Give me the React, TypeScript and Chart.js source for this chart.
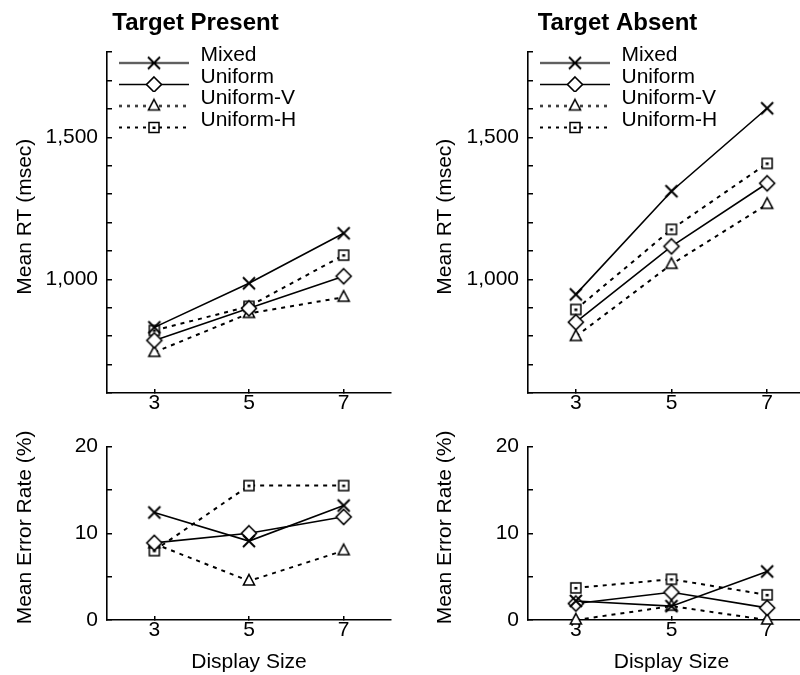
import React, { useEffect, useRef } from 'react';
import { Chart, registerables } from 'chart.js';

Chart.register(...registerables);

const FONT = '"Liberation Sans", Arial, Helvetica, sans-serif';

// ---------------- data ----------------
const DISPLAY_SIZES = [3, 5, 7];
const SERIES_NAMES = ['Mixed', 'Uniform', 'Uniform-V', 'Uniform-H'];
const PANEL_TITLES = ['Target Present', 'Target Absent'];
const Y_TITLE_RT = 'Mean RT (msec)';
const Y_TITLE_ERR = 'Mean Error Rate (%)';
const X_TITLE = 'Display Size';

const RT_PRESENT_MIXED = [831, 986, 1162];
const RT_PRESENT_UNIFORM = [785, 898, 1011];
const RT_PRESENT_UNIFORM_V = [743, 880, 937];
const RT_PRESENT_UNIFORM_H = [820, 905, 1085];

const RT_ABSENT_MIXED = [947, 1310, 1602];
const RT_ABSENT_UNIFORM = [849, 1116, 1338];
const RT_ABSENT_UNIFORM_V = [799, 1053, 1264];
const RT_ABSENT_UNIFORM_H = [894, 1176, 1408];

const ERR_PRESENT_MIXED = [12.4, 9.1, 13.2];
const ERR_PRESENT_UNIFORM = [8.9, 10.0, 11.9];
const ERR_PRESENT_UNIFORM_V = [8.8, 4.5, 8.0];
const ERR_PRESENT_UNIFORM_H = [8.0, 15.5, 15.5];

const ERR_ABSENT_MIXED = [2.2, 1.6, 5.6];
const ERR_ABSENT_UNIFORM = [1.9, 3.2, 1.4];
const ERR_ABSENT_UNIFORM_V = [0, 1.6, 0];
const ERR_ABSENT_UNIFORM_H = [3.7, 4.7, 2.9];

const RT_TICK_LABELS = [1000, 1500];
const ERR_TICK_LABELS = [0, 10, 20];
const RT_RANGE = [600, 1800, 100];
const ERR_RANGE = [0, 20, 5];
const X_RANGE = [2, 8];

// ---------------- styles ----------------
type MarkerKind = 'cross' | 'diamond' | 'triangle' | 'square';
const SERIES_STYLE: { marker: MarkerKind; dash: number[]; width: number }[] = [
  { marker: 'cross', dash: [], width: 1.6 },
  { marker: 'diamond', dash: [], width: 1.6 },
  { marker: 'triangle', dash: [4, 5], width: 2 },
  { marker: 'square', dash: [4, 5], width: 2 },
];

function drawMarker(ctx: CanvasRenderingContext2D, kind: MarkerKind, cx: number, cy: number) {
  ctx.save();
  ctx.setLineDash([]);
  ctx.strokeStyle = '#000';
  ctx.fillStyle = '#fff';
  ctx.lineJoin = 'miter';
  if (kind === 'cross') {
    ctx.lineWidth = 2;
    ctx.beginPath();
    ctx.moveTo(cx - 6, cy - 6);
    ctx.lineTo(cx + 6, cy + 6);
    ctx.moveTo(cx + 6, cy - 6);
    ctx.lineTo(cx - 6, cy + 6);
    ctx.stroke();
  } else if (kind === 'diamond') {
    ctx.lineWidth = 1.6;
    ctx.beginPath();
    ctx.moveTo(cx, cy - 7.5);
    ctx.lineTo(cx + 7.5, cy);
    ctx.lineTo(cx, cy + 7.5);
    ctx.lineTo(cx - 7.5, cy);
    ctx.closePath();
    ctx.fill();
    ctx.stroke();
  } else if (kind === 'triangle') {
    ctx.lineWidth = 1.6;
    ctx.beginPath();
    ctx.moveTo(cx, cy - 6.5);
    ctx.lineTo(cx + 5.5, cy + 4);
    ctx.lineTo(cx - 5.5, cy + 4);
    ctx.closePath();
    ctx.fill();
    ctx.stroke();
  } else {
    ctx.lineWidth = 1.5;
    ctx.beginPath();
    ctx.rect(cx - 5, cy - 5, 10, 10);
    ctx.fill();
    ctx.stroke();
    ctx.fillStyle = '#000';
    ctx.fillRect(cx - 1.5, cy - 1, 3, 2.5);
  }
  ctx.restore();
}

let markerCache: HTMLCanvasElement[] | null = null;
let legendCache: HTMLCanvasElement[] | null = null;

function markerImages(): HTMLCanvasElement[] {
  if (markerCache) return markerCache;
  markerCache = SERIES_STYLE.map((s) => {
    const c = document.createElement('canvas');
    c.width = 20;
    c.height = 20;
    drawMarker(c.getContext('2d')!, s.marker, 10, 10);
    return c;
  });
  return markerCache;
}

const LEGEND_W = 72;
function legendImages(): HTMLCanvasElement[] {
  if (legendCache) return legendCache;
  legendCache = SERIES_STYLE.map((s) => {
    const c = document.createElement('canvas');
    c.width = LEGEND_W;
    c.height = 30;
    const ctx = c.getContext('2d')!;
    const ly = 22.5;
    ctx.strokeStyle = '#000';
    ctx.lineWidth = s.width;
    ctx.setLineDash(s.dash.length ? [3, 5] : []);
    ctx.beginPath();
    ctx.moveTo(1, ly);
    ctx.lineTo(LEGEND_W - 1, ly);
    ctx.stroke();
    drawMarker(ctx, s.marker, LEGEND_W / 2, ly);
    return c;
  });
  return legendCache;
}

const legendShift = {
  id: 'legendShift',
  afterLayout(chart: any) {
    const lg = chart.legend;
    if (!lg || !chart.options.plugins.legend.display) return;
    const ca = chart.chartArea;
    lg.left = ca.left + 10.5;
    lg.top = ca.top - 7.5;
  },
};

interface PanelSpec {
  left: number;
  top: number;
  width: number;
  height: number;
  series: number[][];
  range: number[];
  labeled: number[];
  yTitle: string;
  title?: string;
  legend: boolean;
  xTitle: boolean;
  padding: { top: number; right: number; bottom: number; left: number };
  yW: number;
  xH: number;
}

const PANELS: PanelSpec[] = [
  {
    left: 0, top: 0, width: 410, height: 420,
    series: [RT_PRESENT_MIXED, RT_PRESENT_UNIFORM, RT_PRESENT_UNIFORM_V, RT_PRESENT_UNIFORM_H],
    range: RT_RANGE, labeled: RT_TICK_LABELS, yTitle: Y_TITLE_RT, title: PANEL_TITLES[0],
    legend: true, xTitle: false, padding: { top: 0, right: 19, bottom: 0, left: 0 }, yW: 107, xH: 27,
  },
  {
    left: 420, top: 0, width: 406, height: 420,
    series: [RT_ABSENT_MIXED, RT_ABSENT_UNIFORM, RT_ABSENT_UNIFORM_V, RT_ABSENT_UNIFORM_H],
    range: RT_RANGE, labeled: RT_TICK_LABELS, yTitle: Y_TITLE_RT, title: PANEL_TITLES[1],
    legend: true, xTitle: false, padding: { top: 0, right: 11, bottom: 0, left: 0 }, yW: 108, xH: 27,
  },
  {
    left: 0, top: 420, width: 410, height: 255,
    series: [ERR_PRESENT_MIXED, ERR_PRESENT_UNIFORM, ERR_PRESENT_UNIFORM_V, ERR_PRESENT_UNIFORM_H],
    range: ERR_RANGE, labeled: ERR_TICK_LABELS, yTitle: Y_TITLE_ERR,
    legend: false, xTitle: true, padding: { top: 13, right: 19, bottom: 0, left: 0 }, yW: 107, xH: 55,
  },
  {
    left: 420, top: 420, width: 406, height: 255,
    series: [ERR_ABSENT_MIXED, ERR_ABSENT_UNIFORM, ERR_ABSENT_UNIFORM_V, ERR_ABSENT_UNIFORM_H],
    range: ERR_RANGE, labeled: ERR_TICK_LABELS, yTitle: Y_TITLE_ERR,
    legend: false, xTitle: true, padding: { top: 13, right: 11, bottom: 0, left: 0 }, yW: 108, xH: 55,
  },
];

function buildConfig(p: PanelSpec): any {
  const markers = markerImages();
  const legendImgs = legendImages();
  return {
    type: 'line',
    data: {
      datasets: p.series.map((vals, i) => ({
        label: SERIES_NAMES[i],
        data: DISPLAY_SIZES.map((x, j) => ({ x, y: vals[j] })),
        borderColor: '#000',
        backgroundColor: '#fff',
        borderWidth: SERIES_STYLE[i].width,
        borderDash: SERIES_STYLE[i].dash,
        pointStyle: markers[i],
        pointRadius: 6,
        pointHoverRadius: 6,
        fill: false,
        tension: 0,
        clip: false,
      })),
    },
    options: {
      responsive: false,
      animation: false,
      devicePixelRatio: 1,
      events: [],
      layout: { padding: p.padding },
      plugins: {
        tooltip: { enabled: false },
        title: {
          display: !!p.title,
          text: p.title || '',
          color: '#000',
          font: { family: FONT, size: 24, weight: 'bold' },
          padding: { top: 8.6, bottom: 14.6 },
        },
        legend: {
          display: p.legend,
          position: 'chartArea',
          align: 'start',
          labels: {
            usePointStyle: true,
            pointStyleWidth: LEGEND_W,
            padding: 0.5,
            color: '#000',
            font: { family: FONT, size: 21 },
            generateLabels: (chart: any) =>
              chart.data.datasets.map((ds: any, i: number) => ({
                text: ds.label,
                pointStyle: legendImgs[i],
                fillStyle: '#fff',
                strokeStyle: '#000',
                lineWidth: 1,
                hidden: false,
                datasetIndex: i,
                fontColor: '#000',
              })),
          },
        },
      },
      scales: {
        x: {
          type: 'linear',
          min: X_RANGE[0],
          max: X_RANGE[1],
          afterBuildTicks: (s: any) => {
            s.ticks = DISPLAY_SIZES.map((v) => ({ value: v }));
          },
          afterFit: (s: any) => {
            s.height = p.xH;
          },
          grid: { display: true, drawOnChartArea: false, drawTicks: true, tickLength: -4, color: '#000', lineWidth: 1.5 },
          border: { display: true, color: '#000', width: 1.6 },
          ticks: { color: '#000', font: { family: FONT, size: 21 }, padding: 2, autoSkip: false, maxRotation: 0 },
          title: {
            display: p.xTitle,
            text: X_TITLE,
            color: '#000',
            font: { family: FONT, size: 21 },
            padding: { top: 0, bottom: 0 },
          },
        },
        y: {
          type: 'linear',
          min: p.range[0],
          max: p.range[1],
          afterFit: (s: any) => {
            s.width = p.yW;
          },
          grid: { display: true, drawOnChartArea: false, drawTicks: true, tickLength: -5, color: '#000', lineWidth: 1.5 },
          border: { display: true, color: '#000', width: 1.6 },
          ticks: {
            stepSize: p.range[2],
            autoSkip: false,
            color: '#000',
            padding: 14,
            font: { family: FONT, size: 21 },
            callback: (v: number) => (p.labeled.includes(v) ? v.toLocaleString('en-US') : ''),
          },
          title: {
            display: true,
            text: '  ' + p.yTitle,
            color: '#000',
            font: { family: FONT, size: 21 },
            padding: { top: 13, bottom: 0 },
          },
        },
      },
    },
    plugins: [legendShift],
  };
}

function Panel({ spec }: { spec: PanelSpec }) {
  const ref = useRef<HTMLCanvasElement>(null);
  useEffect(() => {
    const chart = new Chart(ref.current as HTMLCanvasElement, buildConfig(spec));
    return () => chart.destroy();
  }, [spec]);
  return (
    <canvas
      ref={ref}
      width={spec.width}
      height={spec.height}
      style={{ position: 'absolute', left: spec.left, top: spec.top, width: spec.width, height: spec.height }}
    />
  );
}

export default function App() {
  return (
    <div
      style={{
        position: 'fixed',
        left: 0,
        top: 0,
        width: 800,
        height: 675,
        overflow: 'hidden',
        background: '#fff',
      }}
    >
      {PANELS.map((p, i) => (
        <Panel key={i} spec={p} />
      ))}
    </div>
  );
}
